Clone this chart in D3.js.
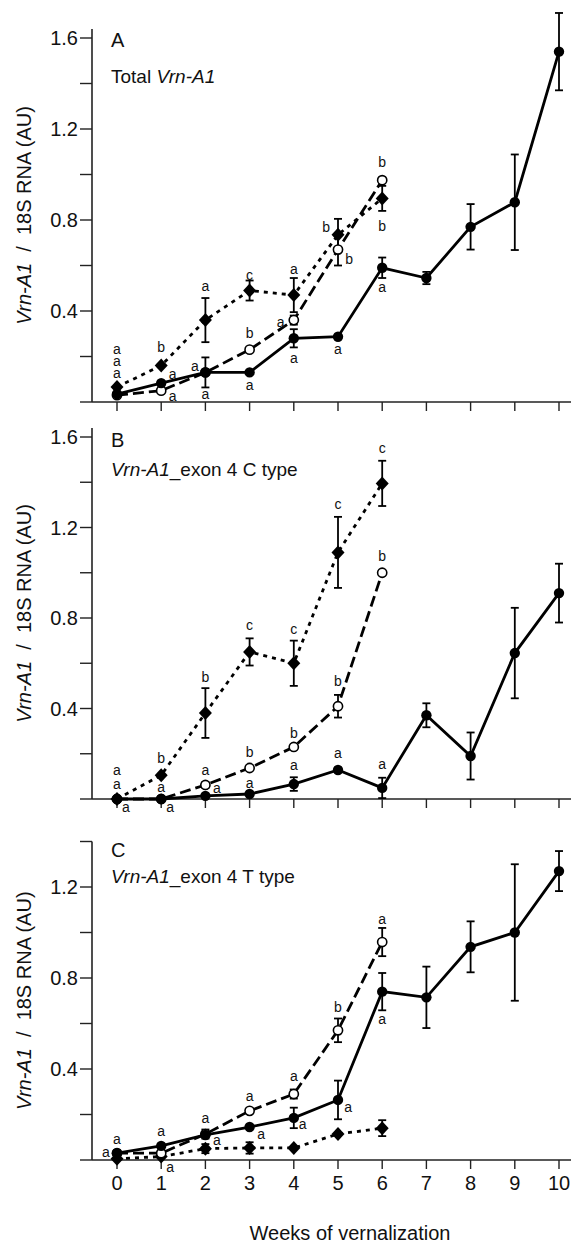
<!DOCTYPE html>
<html>
<head>
<meta charset="utf-8">
<script src="https://cdn.jsdelivr.net/npm/d3@7.9.0/dist/d3.min.js"></script>
<style>
  body { margin: 0; background: #fff; }
  svg text { font-family: "Liberation Sans", Arial, sans-serif; fill: #111; }
</style>
</head>
<body>
<svg id="chart" width="571" height="1245"></svg>
<script>
// ---------------------------------------------------------
// Data
// ---------------------------------------------------------
const weeksLong = [0, 1, 2, 3, 4, 5, 6, 7, 8, 9, 10];
const weeksShort = [0, 1, 2, 3, 4, 5, 6];
const xTicks = [0, 1, 2, 3, 4, 5, 6, 7, 8, 9, 10];

// Panel A – Total Vrn-A1
const solidA = [0.035, 0.083, 0.13, 0.13, 0.28, 0.287, 0.59, 0.545, 0.77, 0.878, 1.54];
const solidAErr = [0, 0.01, 0, 0, 0.04, 0, 0.045, 0.027, 0.1, 0.21, 0.17];
const openA = [0.03, 0.05, 0.13, 0.23, 0.36, 0.67, 0.975];
const openAErr = [0, 0, 0.066, 0, 0.02, 0.07, 0];
const diamondA = [0.066, 0.16, 0.36, 0.49, 0.47, 0.735, 0.895];
const diamondAErr = [0, 0, 0.097, 0.044, 0.075, 0.07, 0.055];
const lettersA = [
  [0, 0.23, "a"], [0, 0.178, "a"], [0, 0.126, "a"],
  [1, 0.238, "b"], [1.26, 0.12, "a"], [1.26, 0.022, "a"],
  [1.76, 0.155, "a"], [2, 0.505, "a"], [2, 0.03, "a"],
  [3, 0.555, "c"], [3, 0.30, "b"], [3, 0.07, "a"],
  [3.7, 0.35, "a"], [4, 0.58, "a"], [4, 0.19, "a"],
  [4.73, 0.766, "b"], [5.25, 0.625, "b"], [5, 0.23, "a"],
  [6, 1.05, "b"], [6, 0.77, "b"], [6, 0.50, "a"]
];

// Panel B – exon 4 C type
const solidB = [0, 0, 0.014, 0.022, 0.066, 0.128, 0.049, 0.37, 0.19, 0.645, 0.91];
const solidBErr = [0, 0, 0, 0, 0.03, 0.01, 0.045, 0.053, 0.104, 0.2, 0.13];
const openB = [0, 0, 0.062, 0.137, 0.23, 0.41, 1.0];
const openBErr = [0, 0, 0.012, 0, 0, 0.05, 0];
const diamondB = [0, 0.105, 0.38, 0.65, 0.60, 1.09, 1.395];
const diamondBErr = [0, 0, 0.11, 0.06, 0.1, 0.157, 0.1];
const lettersB = [
  [0, 0.126, "a"], [0, 0.064, "a"], [0.2, -0.04, "a"],
  [1, 0.177, "b"], [1, 0.05, "a"], [1.2, -0.04, "a"],
  [2, 0.535, "b"], [2, 0.124, "a"], [2.26, 0.044, "a"],
  [3, 0.765, "c"], [3, 0.203, "b"], [3, 0.066, "a"],
  [4, 0.746, "c"], [4, 0.29, "b"], [4, 0.146, "a"],
  [5, 1.30, "c"], [5, 0.52, "b"], [5, 0.20, "a"],
  [6, 1.55, "c"], [6, 1.07, "b"], [6, 0.15, "a"]
];

// Panel C – exon 4 T type
const solidC = [0.03, 0.062, 0.11, 0.145, 0.185, 0.264, 0.74, 0.715, 0.937, 1.0, 1.27];
const solidCErr = [0, 0, 0, 0, 0.045, 0.085, 0.082, 0.135, 0.112, 0.3, 0.088];
const openC = [0.03, 0.03, 0.114, 0.216, 0.29, 0.57, 0.958];
const openCErr = [0, 0, 0.02, 0, 0.02, 0.052, 0.062];
const diamondC = [0.005, 0.015, 0.05, 0.053, 0.053, 0.114, 0.14];
const diamondCErr = [0, 0, 0.02, 0.025, 0, 0, 0.035];
const lettersC = [
  [-0.25, 0.03, "a"], [0, 0.088, "a"],
  [1, 0.123, "a"], [1.2, -0.035, "a"],
  [2, 0.18, "a"], [2.26, 0.083, "a"],
  [3, 0.28, "a"], [3.26, 0.11, "a"],
  [4, 0.365, "a"], [4.2, 0.154, "a"],
  [5, 0.67, "b"], [5.23, 0.23, "a"],
  [6, 1.055, "a"], [6, 0.615, "a"]
];

// ---------------------------------------------------------
// Layout
// ---------------------------------------------------------
const svg = d3.select("#chart");
const xScale = d3.scaleLinear().domain([0, 10]).range([117, 559]);
const axisX = 92;

const panels = [
  { tag: "A", pre: "Total ", italic: "Vrn-A1", post: "", y0: 402, y1: 38, v1: 1.6, top: 1.64,
    major: [0.4, 0.8, 1.2, 1.6], minor: [0, 0.2, 0.6, 1.0, 1.4],
    solid: solidA, solidErr: solidAErr, open: openA, openErr: openAErr,
    diamond: diamondA, diamondErr: diamondAErr, letters: lettersA, tagY: 47, subY: 83, showX: false },
  { tag: "B", pre: "", italic: "Vrn-A1", post: "_exon 4 C type", y0: 799, y1: 437, v1: 1.6, top: 1.64,
    major: [0.4, 0.8, 1.2, 1.6], minor: [0, 0.2, 0.6, 1.0, 1.4],
    solid: solidB, solidErr: solidBErr, open: openB, openErr: openBErr,
    diamond: diamondB, diamondErr: diamondBErr, letters: lettersB, tagY: 447, subY: 476, showX: false },
  { tag: "C", pre: "", italic: "Vrn-A1", post: "_exon 4 T type", y0: 1160, y1: 887, v1: 1.2, top: 1.4,
    major: [0.4, 0.8, 1.2], minor: [0, 0.2, 0.6, 1.0, 1.4],
    solid: solidC, solidErr: solidCErr, open: openC, openErr: openCErr,
    diamond: diamondC, diamondErr: diamondCErr, letters: lettersC, tagY: 857, subY: 883, showX: true }
];

const diamondPath = "M0,-7L6.5,0L0,7L-6.5,0Z";

panels.forEach(p => {
  const y = d3.scaleLinear().domain([0, p.v1]).range([p.y0, p.y1]);
  const g = svg.append("g");

  // y axis
  g.append("line")
    .attr("x1", axisX).attr("x2", axisX)
    .attr("y1", y(p.top)).attr("y2", y(0))
    .attr("stroke", "#222").attr("stroke-width", 1.6);
  g.selectAll("line.ytick")
    .data(p.major.concat(p.minor))
    .join("line")
    .attr("class", "ytick")
    .attr("x1", axisX - 12).attr("x2", axisX)
    .attr("y1", d => y(d)).attr("y2", d => y(d))
    .attr("stroke", "#222").attr("stroke-width", 1.4);
  g.selectAll("text.ylab")
    .data(p.major)
    .join("text")
    .attr("class", "ylab")
    .attr("x", axisX - 14)
    .attr("y", d => y(d))
    .attr("dy", "0.36em")
    .attr("text-anchor", "end")
    .attr("font-size", 20)
    .text(d => d.toFixed(1));

  // x axis
  g.append("line")
    .attr("x1", axisX).attr("x2", 571)
    .attr("y1", y(0)).attr("y2", y(0))
    .attr("stroke", "#222").attr("stroke-width", 1.6);
  g.selectAll("line.xtick")
    .data(xTicks)
    .join("line")
    .attr("class", "xtick")
    .attr("x1", d => xScale(d)).attr("x2", d => xScale(d))
    .attr("y1", y(0)).attr("y2", y(0) + 9)
    .attr("stroke", "#222").attr("stroke-width", 1.4);
  if (p.showX) {
    g.selectAll("text.xlab")
      .data(xTicks)
      .join("text")
      .attr("class", "xlab")
      .attr("x", d => xScale(d))
      .attr("y", y(0) + 30)
      .attr("text-anchor", "middle")
      .attr("font-size", 20)
      .text(d => d);
  }

  // y axis title
  const yt = g.append("text")
    .attr("transform", `translate(31,${(y(p.top) + y(0)) / 2}) rotate(-90)`)
    .attr("text-anchor", "middle")
    .attr("font-size", 20);
  yt.append("tspan").attr("font-style", "italic").text("Vrn-A1");
  yt.append("tspan").attr("xml:space", "preserve").text("  /  18S RNA (AU)");

  // panel labels
  g.append("text").attr("x", 111).attr("y", p.tagY).attr("font-size", 20).text(p.tag);
  const sub = g.append("text").attr("x", 111).attr("y", p.subY).attr("font-size", 19);
  if (p.pre) sub.append("tspan").text(p.pre);
  sub.append("tspan").attr("font-style", "italic").text(p.italic);
  if (p.post) sub.append("tspan").text(p.post);

  // series
  const series = [
    { vals: p.diamond, err: p.diamondErr, weeks: weeksShort, dash: "4,5", kind: "diamond" },
    { vals: p.open, err: p.openErr, weeks: weeksShort, dash: "11,5", kind: "open" },
    { vals: p.solid, err: p.solidErr, weeks: weeksLong, dash: null, kind: "solid" }
  ];

  series.forEach(s => {
    const pts = s.weeks.map((w, i) => ({ w, v: s.vals[i], e: s.err[i] }));
    const line = d3.line().x(d => xScale(d.w)).y(d => y(d.v));
    g.append("path")
      .datum(pts)
      .attr("d", line)
      .attr("fill", "none")
      .attr("stroke", "#000")
      .attr("stroke-width", 2.8)
      .attr("stroke-dasharray", s.dash);

    const eb = g.append("g").selectAll("g").data(pts.filter(d => d.e > 0)).join("g");
    eb.append("line")
      .attr("x1", d => xScale(d.w)).attr("x2", d => xScale(d.w))
      .attr("y1", d => y(d.v + d.e)).attr("y2", d => y(d.v - d.e))
      .attr("stroke", "#000").attr("stroke-width", 1.8);
    [1, -1].forEach(sg => {
      eb.append("line")
        .attr("x1", d => xScale(d.w) - 4).attr("x2", d => xScale(d.w) + 4)
        .attr("y1", d => y(d.v + sg * d.e)).attr("y2", d => y(d.v + sg * d.e))
        .attr("stroke", "#000").attr("stroke-width", 1.8);
    });
  });

  series.forEach(s => {
    const pts = s.weeks.map((w, i) => ({ w, v: s.vals[i] }));
    if (s.kind === "diamond") {
      g.append("g").selectAll("path").data(pts).join("path")
        .attr("d", diamondPath)
        .attr("transform", d => `translate(${xScale(d.w)},${y(d.v)})`)
        .attr("fill", "#000");
    } else if (s.kind === "open") {
      g.append("g").selectAll("circle").data(pts).join("circle")
        .attr("cx", d => xScale(d.w)).attr("cy", d => y(d.v)).attr("r", 4.6)
        .attr("fill", "#fff").attr("stroke", "#000").attr("stroke-width", 1.6);
    } else {
      g.append("g").selectAll("circle").data(pts).join("circle")
        .attr("cx", d => xScale(d.w)).attr("cy", d => y(d.v)).attr("r", 5.2)
        .attr("fill", "#000");
    }
  });

  // significance letters
  g.selectAll("text.sig")
    .data(p.letters)
    .join("text")
    .attr("class", "sig")
    .attr("x", d => xScale(d[0]))
    .attr("y", d => y(d[1]))
    .attr("dy", "0.3em")
    .attr("text-anchor", "middle")
    .attr("font-size", 14)
    .text(d => d[2]);
});

// x axis title
svg.append("text")
  .attr("x", 350)
  .attr("y", 1240)
  .attr("text-anchor", "middle")
  .attr("font-size", 20)
  .text("Weeks of vernalization");
</script>
</body>
</html>
